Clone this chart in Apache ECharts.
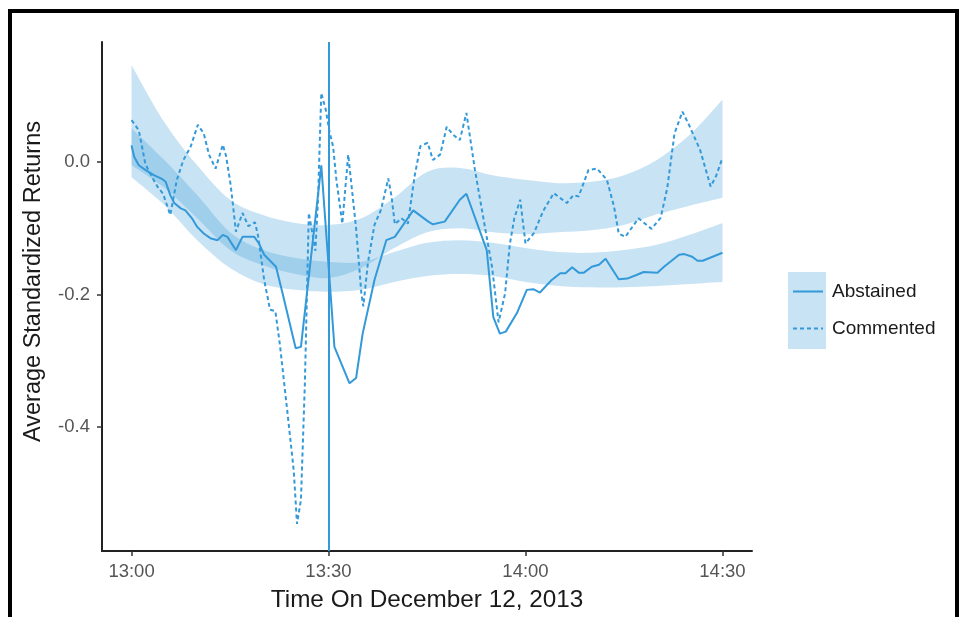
<!DOCTYPE html>
<html>
<head>
<meta charset="utf-8">
<script src="https://cdn.jsdelivr.net/npm/echarts@6/dist/echarts.min.js"></script>
<style>
html,body{margin:0;padding:0;background:#fff;}
#chart{width:963px;height:617px;}
</style>
</head>
<body>
<div id="chart"></div>
<script>
// ---- data (minutes after 13:00, average standardized returns) ----
var abstainedTime = [0, 0.4, 1.1, 2.1, 3.4, 4.7, 5.2, 5.9, 6.5, 7.5, 8.2, 9.2, 10.0, 11.0, 12.0, 13.1, 13.9, 14.6, 15.9, 16.9, 18.7, 19.4, 20.2, 22.0, 23.0, 25.0, 25.8, 28.9, 30.9, 33.2, 34.2, 35.2, 37.0, 38.8, 40.1, 42.9, 45.2, 45.9, 47.7, 50.0, 51.0, 54.1, 55.1, 56.1, 57.0, 58.7, 60.2, 61.2, 62.2, 64.0, 65.3, 66.1, 67.1, 68.1, 68.9, 70.1, 71.2, 72.2, 74.2, 75.5, 76.8, 78.0, 80.1, 81.1, 83.4, 84.2, 85.4, 86.2, 87.0, 88.5, 90];
var abstainedValue = [0.025, 0.008, -0.005, -0.012, -0.020, -0.026, -0.030, -0.050, -0.062, -0.070, -0.073, -0.085, -0.098, -0.108, -0.115, -0.118, -0.110, -0.113, -0.133, -0.113, -0.113, -0.123, -0.140, -0.158, -0.198, -0.281, -0.279, -0.005, -0.279, -0.334, -0.326, -0.259, -0.178, -0.118, -0.113, -0.073, -0.090, -0.094, -0.090, -0.057, -0.048, -0.133, -0.234, -0.259, -0.256, -0.228, -0.193, -0.192, -0.197, -0.178, -0.168, -0.168, -0.159, -0.167, -0.167, -0.158, -0.155, -0.146, -0.177, -0.176, -0.171, -0.166, -0.167, -0.158, -0.140, -0.139, -0.143, -0.149, -0.149, -0.143, -0.137];

var commentedTime = [0, 1.1, 1.6, 2.1, 3.3, 4.0, 4.8, 5.9, 6.9, 7.9, 9.0, 10.1, 11.0, 11.8, 12.8, 13.9, 14.4, 15.1, 15.9, 16.9, 17.8, 18.8, 19.3, 20.2, 21.1, 21.9, 22.6, 23.7, 24.7, 25.2, 25.8, 26.4, 27.0, 28.0, 28.4, 28.9, 29.6, 30.1, 30.7, 31.2, 32.1, 33.0, 33.5, 34.2, 35.0, 35.3, 36.0, 37.0, 38.0, 39.1, 39.6, 40.1, 41.1, 42.1, 43.1, 44.0, 45.1, 45.9, 47.0, 48.0, 49.0, 50.0, 51.0, 52.3, 53.8, 54.9, 55.9, 56.9, 57.6, 58.3, 59.2, 60.0, 61.3, 62.7, 64.3, 66.3, 67.3, 68.1, 69.6, 70.9, 72.4, 73.5, 74.2, 75.2, 77.2, 79.2, 80.6, 81.6, 82.7, 83.9, 84.9, 86.6, 88.2, 89.0, 90];
var commentedValue = [0.063, 0.048, 0.023, -0.003, -0.026, -0.038, -0.048, -0.080, -0.027, 0.003, 0.023, 0.056, 0.043, 0.011, -0.010, 0.026, 0.009, -0.035, -0.105, -0.077, -0.097, -0.091, -0.113, -0.178, -0.223, -0.225, -0.276, -0.374, -0.465, -0.546, -0.510, -0.334, -0.077, -0.134, -0.057, 0.104, 0.078, 0.048, 0.023, -0.027, -0.093, 0.011, -0.035, -0.100, -0.198, -0.218, -0.152, -0.095, -0.072, -0.025, -0.052, -0.094, -0.085, -0.093, -0.022, 0.024, 0.029, 0.003, 0.011, 0.053, 0.041, 0.033, 0.074, -0.012, -0.097, -0.158, -0.242, -0.198, -0.125, -0.085, -0.057, -0.123, -0.107, -0.074, -0.047, -0.062, -0.050, -0.052, -0.012, -0.010, -0.027, -0.068, -0.108, -0.113, -0.085, -0.101, -0.084, -0.039, 0.043, 0.076, 0.056, 0.018, -0.037, -0.022, 0.006];

// smoothed fits: confidence ribbons
var ribbonTime = [0, 5, 10, 15, 20, 25, 30, 35, 40, 45, 50, 55, 60, 65, 70, 75, 80, 85, 90];
var commentedUpper = [0.146, 0.060, -0.005, -0.057, -0.080, -0.092, -0.095, -0.085, -0.054, -0.015, -0.009, -0.020, -0.027, -0.032, -0.030, -0.020, 0.003, 0.041, 0.094];
var commentedLower = [-0.005, -0.039, -0.085, -0.133, -0.156, -0.169, -0.175, -0.160, -0.130, -0.106, -0.100, -0.106, -0.109, -0.106, -0.103, -0.095, -0.079, -0.066, -0.054];
var abstainedUpper = [0.051, 0.003, -0.050, -0.106, -0.133, -0.145, -0.151, -0.151, -0.136, -0.122, -0.118, -0.122, -0.130, -0.136, -0.137, -0.133, -0.125, -0.110, -0.092];
var abstainedLower = [-0.023, -0.065, -0.118, -0.160, -0.184, -0.193, -0.196, -0.193, -0.181, -0.172, -0.169, -0.172, -0.181, -0.187, -0.189, -0.189, -0.187, -0.184, -0.181];

var xTickValues = [0, 30, 60, 90];
var xTickLabels = ['13:00', '13:30', '14:00', '14:30'];
var yTickValues = [-0.4, -0.2, 0];
var eventTime = 30;

// ---- chart ----
var BLUE = '#3399d9';
var FILL = 'rgba(58,154,217,0.28)';
var FONT = 'Liberation Sans, Arial, sans-serif';

function pairs(xs, ys) { return xs.map(function (x, i) { return [x, ys[i]]; }); }

// smooth open curve (Catmull-Rom -> cubic Bezier) through pixel points
function curve(pts, start) {
  var d = (start ? 'M' : 'L') + pts[0][0] + ' ' + pts[0][1];
  for (var i = 0; i < pts.length - 1; i++) {
    var p0 = pts[i - 1] || pts[i], p1 = pts[i], p2 = pts[i + 1], p3 = pts[i + 2] || pts[i + 1];
    var c1x = p1[0] + (p2[0] - p0[0]) / 6, c1y = p1[1] + (p2[1] - p0[1]) / 6;
    var c2x = p2[0] - (p3[0] - p1[0]) / 6, c2y = p2[1] - (p3[1] - p1[1]) / 6;
    d += 'C' + c1x + ' ' + c1y + ' ' + c2x + ' ' + c2y + ' ' + p2[0] + ' ' + p2[1];
  }
  return d;
}

function ribbon(name, upper, lower) {
  return {
    name: name, type: 'custom', silent: true, z: 1, clip: true,
    data: [[ribbonTime[0], upper[0]]],
    encode: { x: 0, y: 1 },
    renderItem: function (params, api) {
      var up = ribbonTime.map(function (t, i) { return api.coord([t, upper[i]]); });
      var lo = ribbonTime.map(function (t, i) { return api.coord([t, lower[i]]); }).reverse();
      var d = curve(up, true) + curve(lo, false) + 'Z';
      return { type: 'path', shape: { pathData: d }, style: { fill: FILL, stroke: null } };
    }
  };
}

var chart = echarts.init(document.getElementById('chart'), null, { renderer: 'canvas' });
var option = {
  animation: false,
  backgroundColor: '#fff',
  grid: { left: 102, right: 211, top: 42, bottom: 65, containLabel: false },
  xAxis: {
    type: 'value', min: -4.5, max: 94.5,
    name: 'Time On December 12, 2013', nameLocation: 'middle', nameGap: 37,
    nameTextStyle: { fontFamily: FONT, fontSize: 24.3, color: '#1a1a1a' },
    axisLine: { show: true, onZero: false, lineStyle: { color: '#222', width: 2 } },
    axisTick: { show: true, length: 5, customValues: xTickValues, lineStyle: { color: '#333', width: 1.5 } },
    axisLabel: { customValues: xTickValues, margin: 11, fontFamily: FONT, fontSize: 18.5, color: '#555',
      formatter: function (v) { var i = xTickValues.indexOf(v); return i >= 0 ? xTickLabels[i] : ''; } },
    splitLine: { show: false }
  },
  yAxis: {
    type: 'value', min: -0.587, max: 0.181,
    name: 'Average Standardized Returns', nameLocation: 'middle', nameGap: 56, nameRotate: 90,
    nameTextStyle: { fontFamily: FONT, fontSize: 23.5, color: '#1a1a1a', padding: [0, 0, 0, 30] },
    axisLine: { show: true, onZero: false, lineStyle: { color: '#222', width: 2 } },
    axisTick: { show: true, length: 5, customValues: yTickValues, lineStyle: { color: '#333', width: 1.5 } },
    axisLabel: { customValues: yTickValues, margin: 12, fontFamily: FONT, fontSize: 18.5, color: '#555',
      formatter: function (v) { return v.toFixed(1); } },
    splitLine: { show: false }
  },
  legend: {
    orient: 'vertical', left: 792, top: 282, padding: 0, itemWidth: 30, itemHeight: 20, itemGap: 18,
    data: ['Abstained', 'Commented'],
    itemStyle: { color: 'transparent', borderWidth: 0, opacity: 0 },
    textStyle: { fontFamily: FONT, fontSize: 19, color: '#1a1a1a', padding: [0, 0, 0, 4] }
  },
  graphic: [
    { type: 'rect', left: 788, top: 272, shape: { width: 38, height: 77 }, style: { fill: FILL }, z: -1, silent: true },
    { type: 'rect', shape: { x: 10, y: 11, width: 947, height: 640 }, style: { fill: 'none', stroke: '#000', lineWidth: 4 }, z: 100, silent: true }
  ],
  series: [
    ribbon('Commented fit', commentedUpper, commentedLower),
    ribbon('Abstained fit', abstainedUpper, abstainedLower),
    { name: 'Abstained', type: 'line', data: pairs(abstainedTime, abstainedValue), symbol: 'none', z: 3,
      lineStyle: { color: BLUE, width: 2, type: 'solid' }, itemStyle: { color: BLUE },
      markLine: { silent: true, symbol: 'none', label: { show: false },
        lineStyle: { color: BLUE, width: 2, type: 'solid' }, data: [{ xAxis: eventTime }] } },
    { name: 'Commented', type: 'line', data: pairs(commentedTime, commentedValue), symbol: 'none', z: 3,
      lineStyle: { color: BLUE, width: 2, type: [4, 3] }, itemStyle: { color: BLUE } }
  ]
};
chart.setOption(option);
</script>
</body>
</html>
